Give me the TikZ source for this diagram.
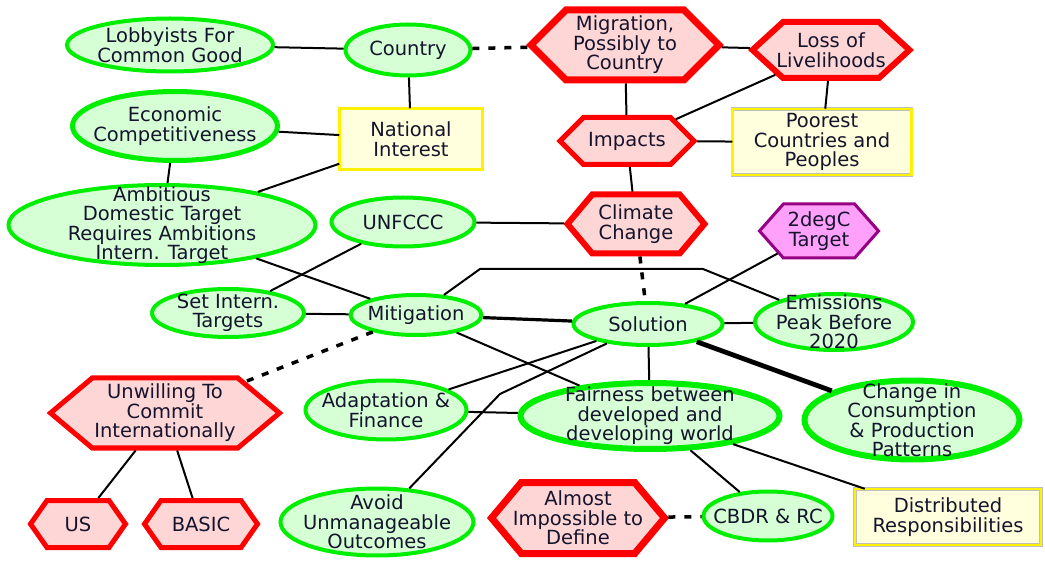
\documentclass[tikz,border=0pt]{standalone}
\usepackage{fontspec}
\setmainfont{DejaVu Sans}
\usepackage{tikz}
\usetikzlibrary{shapes.geometric}
\usetikzlibrary{shapes.symbols}
\definecolor{goalfill}{RGB}{214,255,214}
\definecolor{goalline}{RGB}{0,238,0}
\definecolor{issuefill}{RGB}{255,214,214}
\definecolor{targetfill}{RGB}{255,160,250}
\definecolor{targetline}{RGB}{150,0,130}
\definecolor{notefill}{RGB}{255,255,221}
\definecolor{inktext}{RGB}{20,20,45}
\tikzset{
  txt/.style={align=center, text=inktext, inner sep=0pt,
    font=\fontsize{19.5}{19.5}\selectfont},
  goal/.style={ellipse, draw=goalline, fill=goalfill, line width=4pt,
    inner sep=0pt, label={[txt]center:{#1}}},
  issue/.style={signal, signal to=east and west, signal pointer angle=90,
    draw=red, fill=issuefill, line width=5pt, inner sep=0pt,
    label={[txt]center:{#1}}},
  target/.style={signal, signal to=east and west, signal pointer angle=97,
    draw=targetline, fill=targetfill, line width=3pt, inner sep=0pt,
    label={[txt]center:{#1}}},
  note/.style={rectangle, draw=black!25, double=yellow, double distance=2.6pt,
    line width=0.5pt, fill=notefill, inner sep=0pt,
    label={[txt]center:{#1}}},
  link/.style={line width=2pt},
  strong/.style={line width=3.2pt},
  heavy/.style={line width=4.8pt},
  hint/.style={line width=3.5pt, dash pattern=on 7pt off 9pt}
}
\begin{document}
\begin{tikzpicture}[x=1pt, y=-1pt]
\useasboundingbox (0,0) rectangle (1045,561);

% ellipses
\node[goal={Lobbyists For\\Common Good}, minimum width=206pt, minimum height=53pt] (lobby) at (170,45) {};
\node[goal={Country}, minimum width=125pt, minimum height=51pt] (country) at (408,50) {};
\node[goal={Economic\\Competitiveness}, line width=5pt, minimum width=205pt, minimum height=69pt] (econ) at (175,126) {};
\node[goal={Ambitious\\Domestic Target\\Requires Ambitions\\Intern. Target}, minimum width=307pt, minimum height=80pt] (ambit) at (162,225) {};
\node[goal={UNFCCC}, minimum width=143pt, minimum height=49pt] (unfccc) at (403,222) {};
\node[goal={Set Intern.\\Targets}, minimum width=152pt, minimum height=48pt] (setint) at (228,313) {};
\node[goal={Mitigation}, minimum width=131pt, minimum height=40pt] (mitig) at (416,315) {};
\node[goal={Solution}, minimum width=149pt, minimum height=42pt] (solution) at (648,324) {};
\node[goal={Emissions\\Peak Before\\2020}, minimum width=158pt, minimum height=56pt] (emission) at (834,322) {};
\node[goal={Adaptation \&\\Finance}, minimum width=161pt, minimum height=59pt] (adapt) at (386,410) {};
\node[goal={Fairness between\\developed and\\developing world}, line width=6pt, minimum width=259pt, minimum height=66pt] (fair) at (650,416) {};
\node[goal={Change in\\Consumption\\\& Production\\Patterns}, line width=6pt, minimum width=215pt, minimum height=79pt] (change) at (912,420) {};
\node[goal={Avoid\\Unmanageable\\Outcomes}, minimum width=193pt, minimum height=67pt] (avoid) at (377,522) {};
\node[goal={CBDR \& RC}, minimum width=129pt, minimum height=49pt] (cbdr) at (768,516) {};

% hexagons
\node[issue={Migration,\\Possibly to\\Country}, line width=7pt, minimum width=188pt, minimum height=70pt] (migr) at (625,45) {};
\node[issue={Loss of\\Livelihoods}, line width=6pt, signal pointer angle=85, minimum width=157pt, minimum height=56pt] (loss) at (831,50) {};
\node[issue={Impacts}, minimum width=134pt, minimum height=47pt] (impacts) at (627,141) {};
\node[issue={Climate\\Change}, line width=6pt, signal pointer angle=100, minimum width=137pt, minimum height=59pt] (climate) at (636,224) {};
\node[issue={Unwilling To\\Commit\\Internationally}, signal pointer angle=80, minimum width=229pt, minimum height=70pt] (unwill) at (165,413) {};
\node[issue={US}, signal pointer angle=110, minimum width=95pt, minimum height=47pt] (us) at (78,524) {};
\node[issue={BASIC}, signal pointer angle=110, minimum width=113pt, minimum height=47pt] (basic) at (201,524) {};
\node[issue={Almost\\Impossible to\\Define}, line width=7pt, signal pointer angle=100, minimum width=173pt, minimum height=71pt] (almost) at (578,518) {};
\node[target={2degC\\Target}, minimum width=119pt, minimum height=54pt] (twodeg) at (819,231) {};

% boxes
\node[note={National\\Interest}, minimum width=143pt, minimum height=61pt] (natint) at (411,139) {};
\node[note={Poorest\\Countries and\\Peoples}, minimum width=179pt, minimum height=66pt] (poorest) at (822,142) {};
\node[note={Distributed\\Responsibilities}, minimum width=186pt, minimum height=56pt] (distrib) at (948,517) {};

\coordinate (bendA) at (480,269);
\coordinate (bendB) at (703,269);
\coordinate (bendC) at (500,394);

\draw[link] (lobby) -- (country);
\draw[link] (country) -- (natint);
\draw[link] (econ) -- (natint);
\draw[link] (econ) -- (ambit);
\draw[link] (ambit) -- (natint);
\draw[link] (migr) -- (loss);
\draw[link] (migr) -- (impacts);
\draw[link] (impacts) -- (loss);
\draw[link] (loss) -- (poorest);
\draw[link] (impacts) -- (poorest);
\draw[link] (impacts) -- (climate);
\draw[link] (unfccc) -- (climate);
\draw[link] (unfccc) -- (setint);
\draw[link] (ambit) -- (mitig);
\draw[link] (setint) -- (mitig);
\draw[strong] (mitig) -- (solution);
\draw[link] (mitig) -- (bendA) -- (bendB) -- (emission);
\draw[link] (mitig) -- (fair);
\draw[link] (twodeg) -- (solution);
\draw[link] (solution) -- (emission);
\draw[link] (solution) -- (fair);
\draw[heavy] (solution) -- (change);
\draw[link] (solution) -- (adapt);
\draw[link] (solution) -- (bendC) -- (avoid);
\draw[link] (adapt) -- (fair);
\draw[link] (fair) -- (cbdr);
\draw[link] (fair) -- (distrib);
\draw[link] (unwill) -- (us);
\draw[link] (unwill) -- (basic);

\draw[hint] (country) -- (migr);
\draw[hint] (climate) -- (solution);
\draw[hint] (mitig) -- (unwill);
\draw[hint] (almost) -- (cbdr);
\end{tikzpicture}
\end{document}
